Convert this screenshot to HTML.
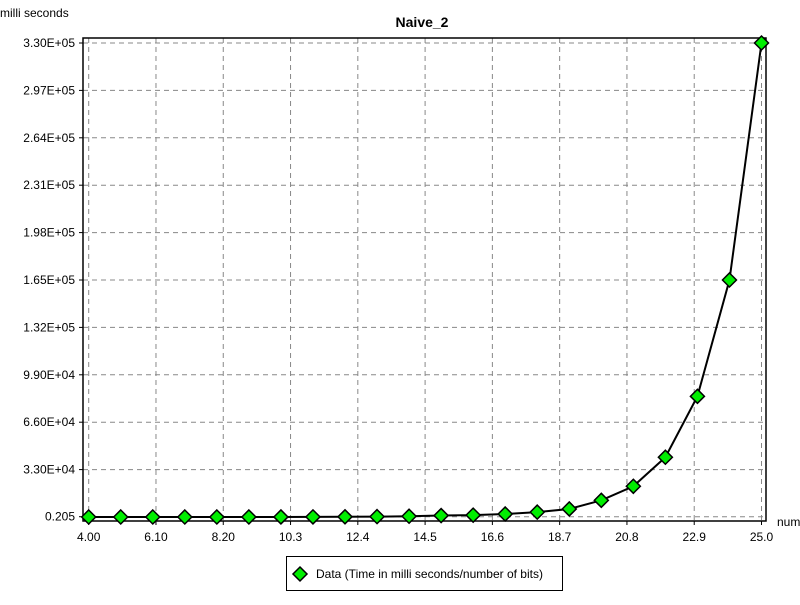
<!DOCTYPE html>
<html><head><meta charset="utf-8"><style>
body{margin:0;background:#fff;}
svg text{font-family:"Liberation Sans",sans-serif;}
</style></head><body>
<svg width="800" height="600" xmlns="http://www.w3.org/2000/svg">
<rect width="800" height="600" fill="#fff"/>
<text x="422" y="27" font-size="14" font-weight="bold" text-anchor="middle">Naive_2</text>
<text x="0" y="17" font-size="12">milli seconds</text>
<text x="777" y="526" font-size="12">num</text>
<g id="grid"></g>
<rect x="83" y="38" width="683" height="483" fill="none" stroke="#000" stroke-width="1.5"/>
<g id="axes"></g>
<g id="series"></g>
<g>
<rect x="286.5" y="556.5" width="276" height="34" fill="#fff" stroke="#000"/>
<path d="M300 567 L307 574 L300 581 L293 574 Z" fill="#00ee00" stroke="#000" stroke-width="1.5"/>
<text x="316" y="578" font-size="12">Data (Time in milli seconds/number of bits)</text>
</g>
</svg>
<script>
const xTicks=[4.0,6.1,8.2,10.3,12.4,14.5,16.6,18.7,20.8,22.9,25.0];
const xTickLabels=["4.00","6.10","8.20","10.3","12.4","14.5","16.6","18.7","20.8","22.9","25.0"];
const yTicks=[205,33000,66000,99000,132000,165000,198000,231000,264000,297000,330000];
const yTickLabels=["0.205","3.30E+04","6.60E+04","9.90E+04","1.32E+05","1.65E+05","1.98E+05","2.31E+05","2.64E+05","2.97E+05","3.30E+05"];
const xs=[4,5,6,7,8,9,10,11,12,13,14,15,16,17,18,19,20,21,22,23,24,25];
const ys=[1,1,2,4,8,16,32,64,130,260,520,1000,1300,2100,3400,5600,11600,21400,41600,84000,165000,330000];
const NS="http://www.w3.org/2000/svg";
const X=v=>88.7+(v-4)/(25-4)*(761.5-88.7);
const Y=v=>516.7-(v-205)/(330000-205)*(516.7-43);
function mk(t,a,p){const e=document.createElementNS(NS,t);for(const k in a)e.setAttribute(k,a[k]);p.appendChild(e);return e;}
const g=document.getElementById('grid'),ax=document.getElementById('axes'),s=document.getElementById('series');
xTicks.forEach((v,i)=>{
 const l=mk('line',{x1:X(v),x2:X(v),y1:38,y2:521,stroke:'#888','stroke-dasharray':'5,4'},g);
 
 
 mk('line',{x1:X(v),x2:X(v),y1:521,y2:525,stroke:'#000'},ax);
 const t=mk('text',{x:X(v),y:541,'font-size':12,'text-anchor':'middle'},ax);t.textContent=xTickLabels[i];
 
 
});
yTicks.forEach((v,i)=>{
 const l=mk('line',{x1:83,x2:766,y1:Y(v),y2:Y(v),stroke:'#888','stroke-dasharray':'5,4'},g);
 
 
 mk('line',{x1:79,x2:83,y1:Y(v),y2:Y(v),stroke:'#000'},ax);
 const t=mk('text',{x:75,y:Y(v)+4,'font-size':12,'text-anchor':'end'},ax);t.textContent=yTickLabels[i];
 
 
});
const pl=mk('polyline',{points:xs.map((x,i)=>X(x)+','+Y(ys[i])).join(' '),fill:'none',stroke:'#000','stroke-width':2},s);


xs.forEach((x,i)=>{
 const cx=X(x),cy=Y(ys[i]);
 const p=mk('path',{d:`M${cx} ${cy-7} L${cx+7} ${cy} L${cx} ${cy+7} L${cx-7} ${cy} Z`,fill:'#00ee00',stroke:'#000','stroke-width':1.5},s);
 
 
});
</script>
</body></html>
